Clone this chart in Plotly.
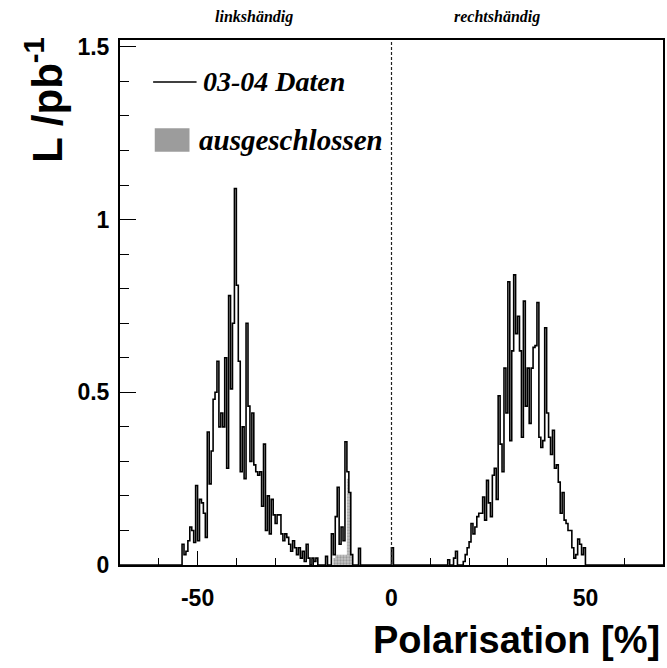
import numpy as np
import plotly.graph_objects as go

# ---------------- data (luminosity per polarisation bin) ----------------
bin_width = 0.5
hist_range = (-70.0, 70.0)

# left-handed peak, bins starting at -54.0 %
left_start = -54.0
left_lumi = [0.06, 0.03, 0.04, 0.07, 0.11, 0.10, 0.065, 0.23, 0.07, 0.19,
             0.18, 0.15, 0.08, 0.385, 0.235, 0.33, 0.48, 0.50, 0.59, 0.40,
             0.44, 0.40, 0.60, 0.28, 0.78, 0.51, 0.70, 1.09, 0.81, 0.59,
             0.27, 0.40, 0.25, 0.70, 0.46, 0.30, 0.44, 0.29, 0.27, 0.26,
             0.27, 0.17, 0.35, 0.10, 0.20, 0.09, 0.19, 0.145, 0.12, 0.145,
             0.145, 0.09, 0.07, 0.09, 0.08, 0.06, 0.04, 0.07, 0.05, 0.03,
             0.05, 0.02, 0.04, 0.01, 0.06, 0.02, 0.0, 0.02, 0.01, 0.02]

# small peak near -12 %, bins starting at -17.0 %
mid_start = -17.0
mid_lumi = [0.025, 0.0, 0.0, 0.09, 0.03, 0.14, 0.225, 0.06, 0.11, 0.07,
            0.357, 0.27, 0.21, 0.03, 0.0, 0.0, 0.0, 0.048]

# single bin at 0 %
zero_start = 0.0
zero_lumi = [0.05]

# right-handed peak, bins starting at 14.5 %
right_start = 14.5
right_lumi = [0.015, 0.0, 0.0, 0.02, 0.04, 0.0, 0.0, 0.0, 0.01, 0.03,
              0.05, 0.067, 0.12, 0.09, 0.11, 0.14, 0.15, 0.15, 0.197, 0.13,
              0.245, 0.18, 0.14, 0.26, 0.28, 0.19, 0.49, 0.35, 0.27, 0.57,
              0.44, 0.82, 0.36, 0.62, 0.84, 0.67, 0.72, 0.62, 0.37, 0.764,
              0.46, 0.57, 0.41, 0.57, 0.63, 0.635, 0.76, 0.37, 0.34, 0.36,
              0.687, 0.44, 0.37, 0.32, 0.39, 0.28, 0.29, 0.24, 0.15, 0.21,
              0.13, 0.12, 0.10, 0.10, 0.05, 0.02, 0.03, 0.075, 0.06, 0.03,
              0.05]

# excluded data (shaded), bins starting at -15.0 %
excl_start = -15.0
excl_lumi = [0.02, 0.03, 0.03, 0.03, 0.03, 0.03, 0.03, 0.25, 0.21, 0.03]

helicity_boundary = 0.0
x_tick_vals = [-50, 0, 50]
x_tick_text = ["-50", "0", "50"]
y_range = (0.0, 1.52)

legend_labels = ["03-04 Daten", "ausgeschlossen"]
region_labels = ["linkshändig", "rechtshändig"]

# ---------------- build histograms ----------------
n_bins = int(round((hist_range[1] - hist_range[0]) / bin_width))
edges = hist_range[0] + bin_width * np.arange(n_bins + 1)


def fill_segment(arr, start, values):
    i0 = int(round((start - hist_range[0]) / bin_width))
    arr[i0:i0 + len(values)] = values


data_hist = np.zeros(n_bins)
for s, v in [(left_start, left_lumi), (mid_start, mid_lumi),
             (zero_start, zero_lumi), (right_start, right_lumi)]:
    fill_segment(data_hist, s, v)

excl_hist = np.zeros(n_bins)
fill_segment(excl_hist, excl_start, excl_lumi)

step_x = edges
step_data = np.append(data_hist, data_hist[-1])
step_excl = np.append(excl_hist, excl_hist[-1])

fig = go.Figure()
fig.add_trace(go.Scatter(
    x=step_x, y=step_excl, mode="lines", line_shape="hv",
    line=dict(width=0, color="#9a9a9a"), fill="tozeroy",
    fillcolor="#a9a9a9",
    fillpattern=dict(shape=".", fgcolor="#6e6e6e", bgcolor="#c4c4c4",
                     size=3, solidity=0.45),
    name=legend_labels[1], showlegend=False, hoverinfo="skip"))
fig.add_trace(go.Scatter(
    x=step_x, y=step_data, mode="lines", line_shape="hv",
    line=dict(width=1.6, color="black"), name=legend_labels[0],
    showlegend=False))

fig.add_vline(x=helicity_boundary, line=dict(color="#222222", width=1.2, dash="3px,2px"))

axis_font = dict(family="Liberation Sans, Arial, sans-serif", size=23,
                 color="black", weight="bold")

fig.update_xaxes(
    range=list(hist_range), showline=True, linewidth=2, linecolor="black",
    mirror=True, ticks="inside", ticklen=14, tickwidth=1.2, tickcolor="black",
    tickmode="array", tickvals=x_tick_vals, ticktext=x_tick_text,
    tickfont=axis_font, ticklabelstandoff=11,
    minor=dict(ticks="inside", ticklen=7, tickwidth=1, tickcolor="black",
               tickmode="linear", tick0=0, dtick=10),
    showgrid=False, zeroline=False)
fig.update_yaxes(
    range=list(y_range), showline=True, linewidth=2, linecolor="black",
    mirror=True, ticks="inside", ticklen=16, tickwidth=1.2, tickcolor="black",
    tickmode="linear", tick0=0, dtick=0.5, tickfont=axis_font,
    ticklabelstandoff=4,
    minor=dict(ticks="inside", ticklen=9, tickwidth=1, tickcolor="black",
               tickmode="linear", tick0=0, dtick=0.1),
    showgrid=False, zeroline=False)

serif_bi = dict(family="Liberation Serif, Times New Roman, serif",
                color="black", weight="bold", style="italic")

# legend drawn in paper coordinates (decoration, not data)
fig.add_shape(type="line", xref="paper", yref="paper",
              x0=0.061, x1=0.141, y0=0.92, y1=0.92,
              line=dict(color="black", width=1.5))
fig.add_shape(type="rect", xref="paper", yref="paper",
              x0=0.064, x1=0.128, y0=0.787, y1=0.832,
              fillcolor="#9c9c9c", line=dict(width=0))

fig.update_layout(
    width=667, height=668,
    margin=dict(l=120, r=2, t=40, b=103),
    paper_bgcolor="white", plot_bgcolor="white",
    showlegend=False,
    annotations=[
        dict(text=legend_labels[0], x=0.150, y=0.92, xref="paper", yref="paper",
             xanchor="left", yanchor="middle", showarrow=False,
             font=dict(size=28, **serif_bi)),
        dict(text=legend_labels[1], x=0.141, y=0.81, xref="paper", yref="paper",
             xanchor="left", yanchor="middle", showarrow=False,
             font=dict(size=29, **serif_bi)),
        dict(text=region_labels[0], x=0.246, y=1.044, xref="paper", yref="paper",
             xanchor="center", yanchor="middle",
             showarrow=False, font=dict(size=16, **serif_bi)),
        dict(text=region_labels[1], x=0.695, y=1.044, xref="paper", yref="paper",
             xanchor="center", yanchor="middle",
             showarrow=False, font=dict(size=16, **serif_bi)),
        dict(text="L /pb<sup>-1</sup>", x=-0.14, y=1.01, xref="paper",
             yref="paper", xanchor="center", yanchor="top", textangle=-90,
             showarrow=False,
             font=dict(family="Liberation Sans, Arial, sans-serif", size=42,
                       color="black", weight="bold")),
        dict(text="Polarisation [%]", x=0.998, y=-0.143, xref="paper",
             yref="paper", xanchor="right", yanchor="middle", showarrow=False,
             font=dict(family="Liberation Sans, Arial, sans-serif", size=38,
                       color="black", weight="bold")),
    ],
)

fig.write_html("out.html")
